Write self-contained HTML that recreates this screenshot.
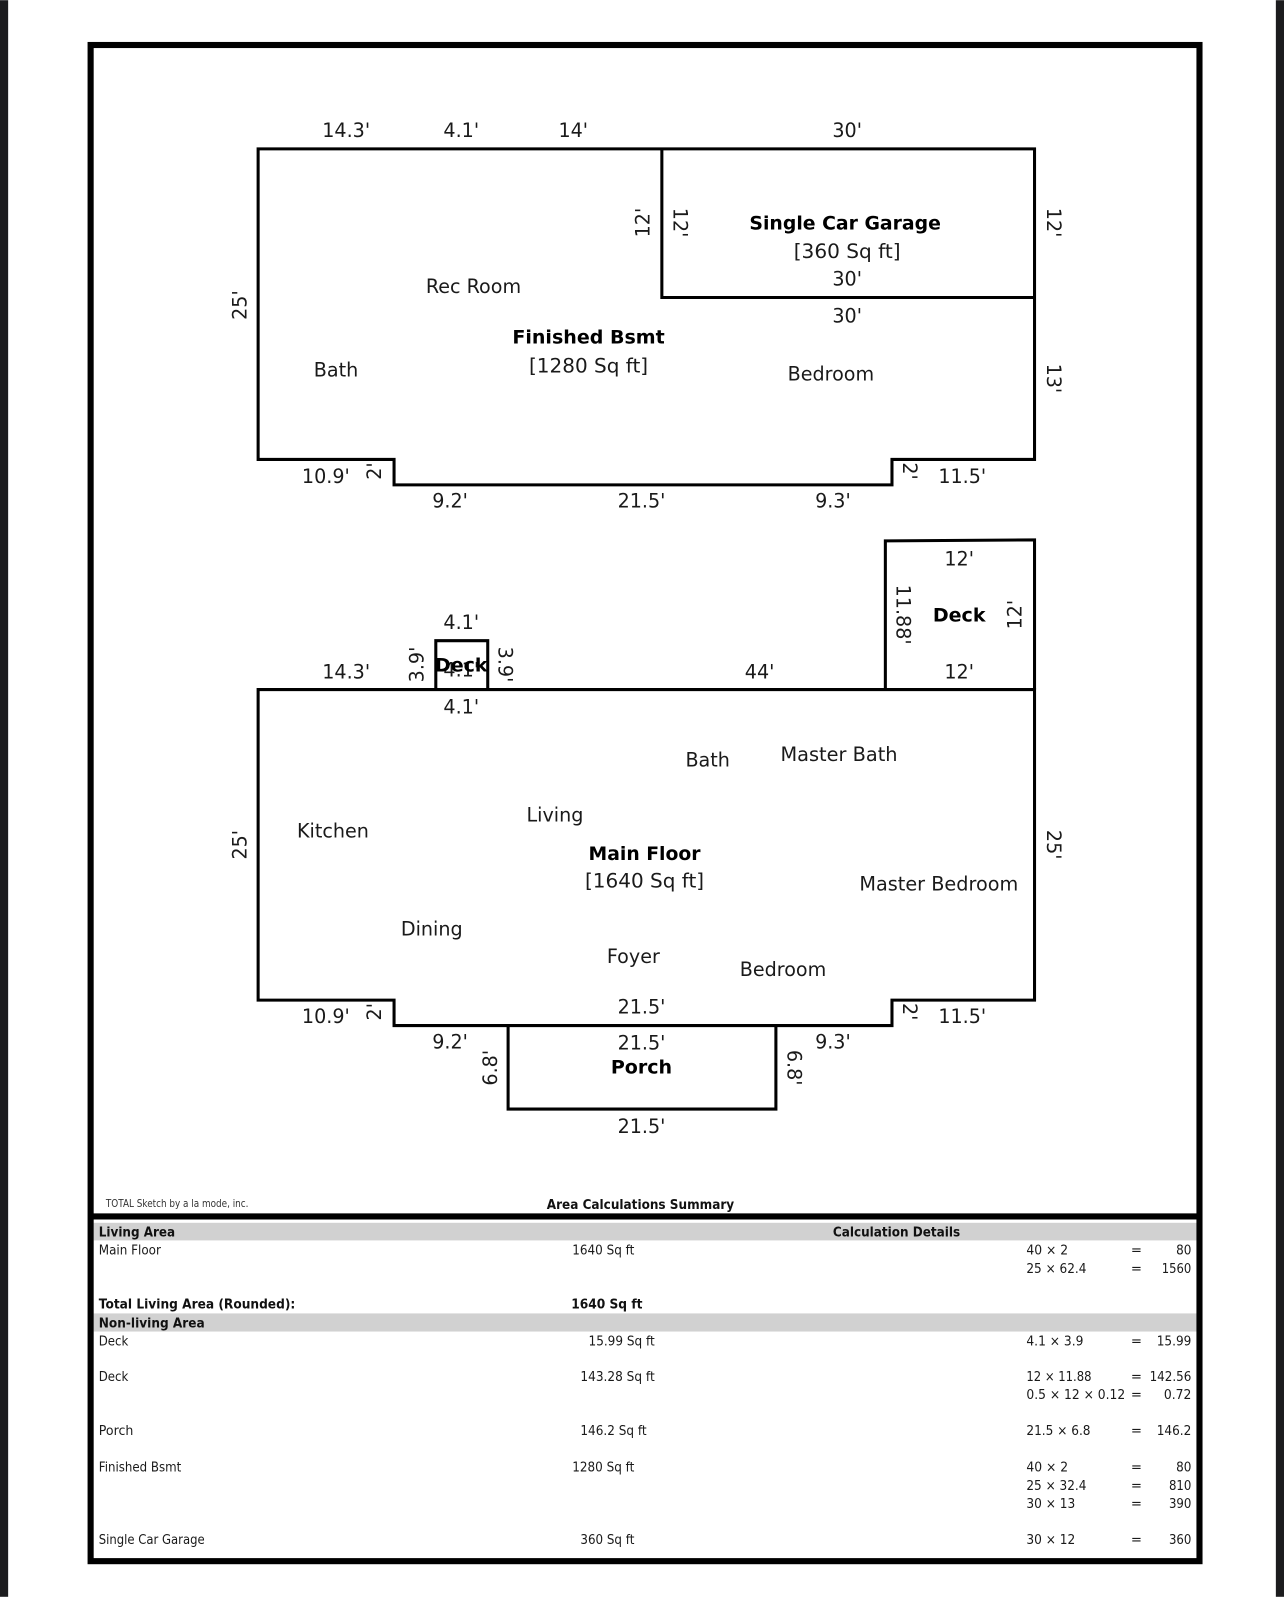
<!DOCTYPE html>
<html><head><meta charset="utf-8"><title>Floor Plan Sketch</title>
<style>
html,body{margin:0;padding:0;background:#fff}
svg{display:block;filter:blur(0.35px)}
text{font-family:"DejaVu Sans","Liberation Sans",sans-serif;fill:#1a1a1a}
.d{font-size:18.8px;text-anchor:middle}
.b{font-size:18.7px;font-weight:bold;text-anchor:middle;fill:#000}
.t{font-size:13px}
.tb{font-size:13px;font-weight:bold;fill:#111}
.w{fill:none;stroke:#000;stroke-width:3}
</style></head><body>
<svg xmlns="http://www.w3.org/2000/svg" width="1284" height="1597" viewBox="0 0 1261 1568">
<rect width="1261" height="1568" fill="#fff"/>
<rect x="0" y="0" width="8" height="1568" fill="#1c1c1e"/>
<rect x="1253" y="0" width="8" height="1568" fill="#1c1c1e"/>
<rect x="92" y="1200.7" width="1084" height="17.3" fill="#d1d1d1"/>
<rect x="92" y="1289.7" width="1084" height="17.8" fill="#d1d1d1"/>
<rect x="89" y="44" width="1089" height="1489" fill="none" stroke="#000" stroke-width="6"/>
<line x1="89" y1="1194.5" x2="1178" y2="1194.5" stroke="#000" stroke-width="6"/>

<path class="w" d="M253.5 146H1016V451H876V476H387V451H253.5Z"/>
<path class="w" d="M650 146V292H1016"/>
<path class="w" d="M253.5 677H1016V982H876V1007H387V982H253.5Z"/>
<path class="w" d="M869.5 677V531L1016 530V677"/>
<path class="w" d="M428 677V629H479V677"/>
<path class="w" d="M499 1007V1089H762V1007"/>

<g transform="translate(0,-0.6)">
<text class="d" x="340" y="135">14.3'</text>
<text class="d" x="453" y="135">4.1'</text>
<text class="d" x="563" y="135">14'</text>
<text class="d" x="832" y="135">30'</text>
<text class="d" transform="translate(242,300) rotate(-90)">25'</text>
<text class="d" transform="translate(638,219) rotate(-90)">12'</text>
<text class="d" transform="translate(661.5,219) rotate(90)">12'</text>
<text class="b" x="830" y="226" textLength="188" lengthAdjust="spacingAndGlyphs">Single Car Garage</text>
<text class="d" x="832" y="254" textLength="105" lengthAdjust="spacingAndGlyphs">[360 Sq ft]</text>
<text class="d" x="832" y="281">30'</text>
<text class="d" x="832" y="317">30'</text>
<text class="d" transform="translate(1028,219) rotate(90)">12'</text>
<text class="d" transform="translate(1028,372) rotate(90)">13'</text>
<text class="d" x="465" y="288">Rec Room</text>
<text class="b" x="578" y="338">Finished Bsmt</text>
<text class="d" x="578" y="366" textLength="117" lengthAdjust="spacingAndGlyphs">[1280 Sq ft]</text>
<text class="d" x="330" y="370">Bath</text>
<text class="d" x="816" y="374">Bedroom</text>
<text class="d" x="320" y="475">10.9'</text>
<text class="d" transform="translate(374,463) rotate(-90)">2'</text>
<text class="d" x="442" y="499">9.2'</text>
<text class="d" x="630" y="499">21.5'</text>
<text class="d" x="818" y="499">9.3'</text>
<text class="d" transform="translate(887,463) rotate(90)">2'</text>
<text class="d" x="945" y="475">11.5'</text>

<text class="d" x="942" y="556">12'</text>
<text class="b" x="942" y="611">Deck</text>
<text class="d" transform="translate(1003,604) rotate(-90)">12'</text>
<text class="d" transform="translate(880.5,604) rotate(90)">11.88'</text>
<text class="d" x="942" y="667">12'</text>
<text class="d" x="746" y="667">44'</text>
<text class="d" x="340" y="667">14.3'</text>
<text class="d" transform="translate(416,653) rotate(-90)">3.9'</text>
<text class="d" x="453" y="618">4.1'</text>
<text class="d" x="453" y="665">4.1'</text>
<text class="b" x="453" y="660">Deck</text>
<text class="d" transform="translate(489.5,653) rotate(90)">3.9'</text>
<text class="d" x="453" y="701">4.1'</text>
<text class="d" transform="translate(242,830) rotate(-90)">25'</text>
<text class="d" transform="translate(1028,830) rotate(90)">25'</text>
<text class="d" x="695" y="753">Bath</text>
<text class="d" x="824" y="748" textLength="115" lengthAdjust="spacingAndGlyphs">Master Bath</text>
<text class="d" x="327" y="823">Kitchen</text>
<text class="d" x="545" y="807">Living</text>
<text class="b" x="633" y="845" textLength="110" lengthAdjust="spacingAndGlyphs">Main Floor</text>
<text class="d" x="633" y="872" textLength="117" lengthAdjust="spacingAndGlyphs">[1640 Sq ft]</text>
<text class="d" x="922" y="875" textLength="156" lengthAdjust="spacingAndGlyphs">Master Bedroom</text>
<text class="d" x="424" y="919">Dining</text>
<text class="d" x="622" y="946">Foyer</text>
<text class="d" x="769" y="959">Bedroom</text>
<text class="d" x="630" y="996">21.5'</text>
<text class="d" x="320" y="1005">10.9'</text>
<text class="d" transform="translate(374,994) rotate(-90)">2'</text>
<text class="d" transform="translate(887,994) rotate(90)">2'</text>
<text class="d" x="945" y="1005">11.5'</text>
<text class="d" x="442" y="1030">9.2'</text>
<text class="d" x="630" y="1031">21.5'</text>
<text class="b" x="630" y="1054.6">Porch</text>
<text class="d" x="818" y="1030">9.3'</text>
<text class="d" transform="translate(488,1049) rotate(-90)">6.8'</text>
<text class="d" transform="translate(773.5,1049) rotate(90)">6.8'</text>
<text class="d" x="630" y="1113">21.5'</text>
</g>

<g>
<text x="104" y="1185" style="font-size:10px;fill:#333" textLength="140" lengthAdjust="spacingAndGlyphs">TOTAL Sketch by a la mode, inc.</text>
<text class="tb" x="537" y="1187" textLength="184" lengthAdjust="spacingAndGlyphs">Area Calculations Summary</text>
<text class="tb" x="97" y="1214" textLength="75" lengthAdjust="spacingAndGlyphs">Living Area</text>
<text class="tb" x="818" y="1214" textLength="125" lengthAdjust="spacingAndGlyphs">Calculation Details</text>
<text class="t" x="97" y="1232" textLength="61" lengthAdjust="spacingAndGlyphs">Main Floor</text>
<text class="t" x="562" y="1232" textLength="61" lengthAdjust="spacingAndGlyphs">1640 Sq ft</text>
<text class="tb" x="97" y="1285" textLength="193" lengthAdjust="spacingAndGlyphs">Total Living Area (Rounded):</text>
<text class="tb" x="561" y="1285" textLength="70" lengthAdjust="spacingAndGlyphs">1640 Sq ft</text>
<text class="tb" x="97" y="1303.5" textLength="104" lengthAdjust="spacingAndGlyphs">Non-living Area</text>
<text class="t" x="97" y="1321" textLength="29" lengthAdjust="spacingAndGlyphs">Deck</text>
<text class="t" x="578" y="1321" textLength="65" lengthAdjust="spacingAndGlyphs">15.99 Sq ft</text>
<text class="t" x="97" y="1356" textLength="29" lengthAdjust="spacingAndGlyphs">Deck</text>
<text class="t" x="570" y="1356" textLength="73" lengthAdjust="spacingAndGlyphs">143.28 Sq ft</text>
<text class="t" x="97" y="1409" textLength="34" lengthAdjust="spacingAndGlyphs">Porch</text>
<text class="t" x="570" y="1409" textLength="65" lengthAdjust="spacingAndGlyphs">146.2 Sq ft</text>
<text class="t" x="97" y="1445" textLength="81" lengthAdjust="spacingAndGlyphs">Finished Bsmt</text>
<text class="t" x="562" y="1445" textLength="61" lengthAdjust="spacingAndGlyphs">1280 Sq ft</text>
<text class="t" x="97" y="1516" textLength="104" lengthAdjust="spacingAndGlyphs">Single Car Garage</text>
<text class="t" x="570" y="1516" textLength="53" lengthAdjust="spacingAndGlyphs">360 Sq ft</text>

<text class="t" x="1008" y="1232" textLength="41" lengthAdjust="spacingAndGlyphs">40 × 2</text>
<text class="t" x="1008" y="1250" textLength="59" lengthAdjust="spacingAndGlyphs">25 × 62.4</text>
<text class="t" x="1008" y="1321" textLength="56" lengthAdjust="spacingAndGlyphs">4.1 × 3.9</text>
<text class="t" x="1008" y="1356" textLength="64" lengthAdjust="spacingAndGlyphs">12 × 11.88</text>
<text class="t" x="1008" y="1374" textLength="97" lengthAdjust="spacingAndGlyphs">0.5 × 12 × 0.12</text>
<text class="t" x="1008" y="1409" textLength="63" lengthAdjust="spacingAndGlyphs">21.5 × 6.8</text>
<text class="t" x="1008" y="1445" textLength="41" lengthAdjust="spacingAndGlyphs">40 × 2</text>
<text class="t" x="1008" y="1463" textLength="59" lengthAdjust="spacingAndGlyphs">25 × 32.4</text>
<text class="t" x="1008" y="1481" textLength="48" lengthAdjust="spacingAndGlyphs">30 × 13</text>
<text class="t" x="1008" y="1516" textLength="48" lengthAdjust="spacingAndGlyphs">30 × 12</text>

<g text-anchor="middle">
<text class="t" x="1116" y="1232">=</text><text class="t" x="1116" y="1250">=</text>
<text class="t" x="1116" y="1321">=</text><text class="t" x="1116" y="1356">=</text>
<text class="t" x="1116" y="1374">=</text><text class="t" x="1116" y="1409">=</text>
<text class="t" x="1116" y="1445">=</text><text class="t" x="1116" y="1463">=</text>
<text class="t" x="1116" y="1481">=</text><text class="t" x="1116" y="1516">=</text>
</g>
<g text-anchor="end">
<text class="t" x="1170" y="1232" textLength="15" lengthAdjust="spacingAndGlyphs">80</text>
<text class="t" x="1170" y="1250" textLength="29" lengthAdjust="spacingAndGlyphs">1560</text>
<text class="t" x="1170" y="1321" textLength="34" lengthAdjust="spacingAndGlyphs">15.99</text>
<text class="t" x="1170" y="1356" textLength="41" lengthAdjust="spacingAndGlyphs">142.56</text>
<text class="t" x="1170" y="1374" textLength="27" lengthAdjust="spacingAndGlyphs">0.72</text>
<text class="t" x="1170" y="1409" textLength="34" lengthAdjust="spacingAndGlyphs">146.2</text>
<text class="t" x="1170" y="1445" textLength="15" lengthAdjust="spacingAndGlyphs">80</text>
<text class="t" x="1170" y="1463" textLength="22" lengthAdjust="spacingAndGlyphs">810</text>
<text class="t" x="1170" y="1481" textLength="22" lengthAdjust="spacingAndGlyphs">390</text>
<text class="t" x="1170" y="1516" textLength="22" lengthAdjust="spacingAndGlyphs">360</text>
</g>
</g>
</svg>
</body></html>
